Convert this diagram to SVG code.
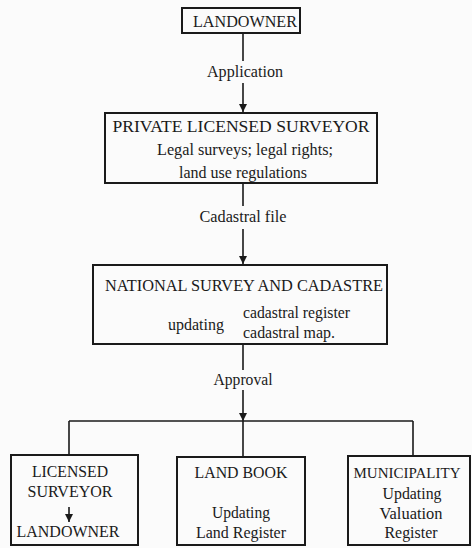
<svg xmlns="http://www.w3.org/2000/svg" width="472" height="548" viewBox="0 0 472 548">
  <style>
    .box { fill: none; stroke: #1a1a1a; stroke-width: 2; }
    .line { fill: none; stroke: #1a1a1a; stroke-width: 1.6; }
    text { font-family: "Liberation Serif", "Times New Roman", serif; font-size: 16.3px; fill: #1a1a1a; text-anchor: middle; }
    .lbl { font-size: 16px; }
    .cap { font-size: 17.3px; }
  </style>
  <defs>
    <marker id="arrow" viewBox="0 0 10 10" refX="10" refY="5" markerWidth="8" markerHeight="8" markerUnits="userSpaceOnUse" orient="auto">
      <path d="M0,0 L10,5 L0,10 z" fill="#1a1a1a"/>
    </marker>
  </defs>
  <rect width="472" height="548" fill="#fbfbfb"/>

  <g id="connectors">
    <!-- landowner to surveyor -->
    <line class="line" x1="243" y1="33" x2="243" y2="61"/>
    <line class="line" x1="243" y1="83" x2="243" y2="112" marker-end="url(#arrow)"/>
    <text class="lbl" x="245" y="77" textLength="76" lengthAdjust="spacingAndGlyphs">Application</text>
    <!-- surveyor to cadastre -->
    <line class="line" x1="243" y1="183" x2="243" y2="206"/>
    <line class="line" x1="243" y1="229" x2="243" y2="264" marker-end="url(#arrow)"/>
    <text class="lbl" x="243" y="222" textLength="87" lengthAdjust="spacingAndGlyphs">Cadastral file</text>
    <!-- cadastre to distribution -->
    <line class="line" x1="243" y1="344" x2="243" y2="370"/>
    <line class="line" x1="243" y1="390" x2="243" y2="421" marker-end="url(#arrow)"/>
    <text class="lbl" x="243" y="385" textLength="59" lengthAdjust="spacingAndGlyphs">Approval</text>
    <!-- branch -->
    <line class="line" x1="69" y1="421" x2="413" y2="421"/>
    <line class="line" x1="69" y1="421" x2="69" y2="455"/>
    <line class="line" x1="243" y1="421" x2="243" y2="457"/>
    <line class="line" x1="413" y1="421" x2="413" y2="456"/>
  </g>

  <g id="landowner">
    <rect class="box" x="182" y="8" width="118" height="25"/>
    <text class="cap" x="245" y="27" textLength="104" lengthAdjust="spacingAndGlyphs">LANDOWNER</text>
  </g>

  <g id="private-surveyor">
    <rect class="box" x="105" y="113" width="272" height="70"/>
    <text class="cap" x="241" y="132" textLength="257" lengthAdjust="spacingAndGlyphs">PRIVATE LICENSED SURVEYOR</text>
    <text x="245" y="155" textLength="176" lengthAdjust="spacingAndGlyphs">Legal surveys; legal rights;</text>
    <text x="243" y="178" textLength="128" lengthAdjust="spacingAndGlyphs">land use regulations</text>
  </g>

  <g id="national-survey">
    <rect class="box" x="93" y="265" width="294" height="79"/>
    <text class="cap" x="244" y="291" textLength="278" lengthAdjust="spacingAndGlyphs">NATIONAL SURVEY AND CADASTRE</text>
    <text x="196" y="330" textLength="56" lengthAdjust="spacingAndGlyphs">updating</text>
    <text x="243" y="318" style="text-anchor:start" textLength="107" lengthAdjust="spacingAndGlyphs">cadastral register</text>
    <text x="243" y="338" style="text-anchor:start" textLength="92" lengthAdjust="spacingAndGlyphs">cadastral map.</text>
  </g>

  <g id="licensed-surveyor">
    <rect class="box" x="11" y="455" width="127" height="90"/>
    <text class="cap" x="70" y="477" textLength="76" lengthAdjust="spacingAndGlyphs">LICENSED</text>
    <text class="cap" x="70" y="497" textLength="85" lengthAdjust="spacingAndGlyphs">SURVEYOR</text>
    <line class="line" x1="69" y1="507" x2="69" y2="522" marker-end="url(#arrow)"/>
    <text class="cap" x="68" y="537" textLength="103" lengthAdjust="spacingAndGlyphs">LANDOWNER</text>
  </g>

  <g id="land-book">
    <rect class="box" x="177" y="457" width="128" height="88"/>
    <text class="cap" x="241" y="478" textLength="93" lengthAdjust="spacingAndGlyphs">LAND BOOK</text>
    <text x="241" y="518" textLength="58" lengthAdjust="spacingAndGlyphs">Updating</text>
    <text x="241" y="538" textLength="90" lengthAdjust="spacingAndGlyphs">Land Register</text>
  </g>

  <g id="municipality">
    <rect class="box" x="348" y="456" width="122" height="89"/>
    <text x="407" y="478" style="font-size:15.5px" textLength="107" lengthAdjust="spacingAndGlyphs">MUNICIPALITY</text>
    <text x="412" y="499" textLength="59" lengthAdjust="spacingAndGlyphs">Updating</text>
    <text x="411" y="519" textLength="63" lengthAdjust="spacingAndGlyphs">Valuation</text>
    <text x="411" y="538" textLength="53" lengthAdjust="spacingAndGlyphs">Register</text>
  </g>
</svg>
